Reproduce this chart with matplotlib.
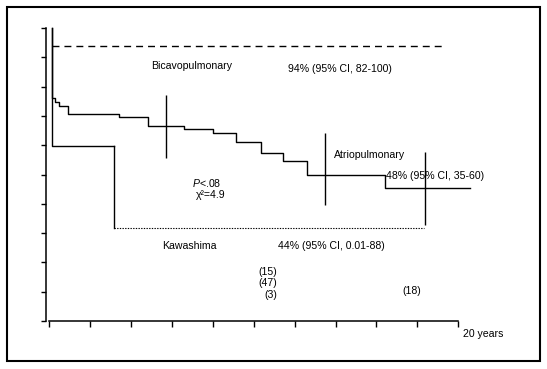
import matplotlib
matplotlib.use("Agg")
import matplotlib.pyplot as plt
from matplotlib.patches import Rectangle

plt.rcParams['font.family'] = ['Liberation Sans', 'DejaVu Sans']
plt.rcParams['mathtext.fontset'] = 'custom'
plt.rcParams['mathtext.rm'] = 'Liberation Sans'
plt.rcParams['mathtext.it'] = 'Liberation Sans:italic'

# ---- data (years, % event-free) ----
atrio_t = [0.13, 0.13, 0.29, 0.50, 0.95, 3.44, 4.85, 6.61, 8.03, 9.12, 10.36, 11.42, 12.62, 16.42, 20.56]
atrio_s = [100, 76.0, 74.8, 73.3, 70.6, 69.5, 66.5, 65.4, 64.3, 61.1, 57.3, 54.6, 49.7, 45.3, 45.3]

kawa_t = [0.13, 0.13, 3.19]
kawa_s = [100, 59.7, 59.7]
kawa_drop_t = 3.19
kawa_low = 31.7
kawa_end_t = 18.34

bicavo_t = [0.13, 19.2]
bicavo_s = [94, 94]

ci_t = [5.73, 13.5, 18.39]
ci_lo = [55.7, 39.5, 32.8]
ci_hi = [77.1, 64.3, 57.6]

x_ticks = list(range(0, 21, 2))
y_ticks = list(range(0, 101, 10))

W, H = 547, 369
fig = plt.figure(figsize=(W / 100, H / 100), dpi=100)

# axes in pixel geometry
x0, x1 = 49, 458.3
ytop, ybot = 28, 321
ax = fig.add_axes([x0 / W, (H - ybot) / H, (x1 - x0) / W, (ybot - ytop) / H])
ax.set_xlim(0, 20)
ax.set_ylim(0, 100)

lw = 1.0
# Atriopulmonary
ax.step(atrio_t, atrio_s, where='post', color='black', lw=lw, clip_on=False)
# Kawashima
ax.step(kawa_t, kawa_s, where='post', color='black', lw=lw, clip_on=False)
ax.plot([kawa_drop_t, kawa_drop_t], [kawa_s[-1], kawa_low], color='black', lw=lw)
ax.plot([kawa_drop_t, kawa_end_t], [kawa_low, kawa_low], color='black', lw=0.8,
        linestyle=(0, (1.2, 1.2)))
# Bicavopulmonary
ax.plot(bicavo_t, bicavo_s, color='black', lw=lw, linestyle=(0, (5.0, 3.6)))
# confidence bars
ax.vlines(ci_t, ci_lo, ci_hi, color='black', lw=lw)

for s in ['top', 'right']:
    ax.spines[s].set_visible(False)
ax.spines['left'].set_position(('outward', 2.5))
ax.spines['left'].set_linewidth(1.1)
ax.spines['bottom'].set_linewidth(1.1)
ax.set_xticks(x_ticks)
ax.set_yticks(y_ticks)
ax.tick_params(axis='x', direction='out', length=4.3, width=1.0, labelbottom=False)
ax.tick_params(axis='y', direction='out', length=3.5, width=1.0, labelleft=False)


def px(xp, yp):
    return (xp - x0) / (x1 - x0) * 20, (ybot - yp) / (ybot - ytop) * 100


fs = 7.6
def txt(xp, yp, s, ha='left', **kw):
    xd, yd = px(xp, yp)
    ax.text(xd, yd, s, ha=ha, va='baseline', fontsize=fs, clip_on=False, **kw)

txt(150.7, 69.3, 'Bicavopulmonary')
txt(287.7, 72.3, '94% (95% CI, 82-100)')
txt(192, 186.7, '$P$<.08')
txt(196, 197.5, 'χ²=4.9')
txt(161.7, 249, 'Kawashima')
txt(278, 249, '44% (95% CI, 0.01-88)')
txt(334.3, 157.7, 'Atriopulmonary')
txt(386, 179.3, '48% (95% CI, 35-60)')
txt(277.5, 275, '(15)', ha='right')
txt(277.5, 286.5, '(47)', ha='right')
txt(277.5, 298, '(3)', ha='right')
txt(402.7, 294, '(18)')
txt(462.7, 336.7, '20 years')

# outer frame
fig.patches.append(Rectangle((7 / W, (H - 361) / H), (540.3 - 7) / W, (361 - 7) / H,
                             transform=fig.transFigure, fill=False, lw=1.5,
                             edgecolor='black'))

fig.savefig('out.png', dpi=100)
